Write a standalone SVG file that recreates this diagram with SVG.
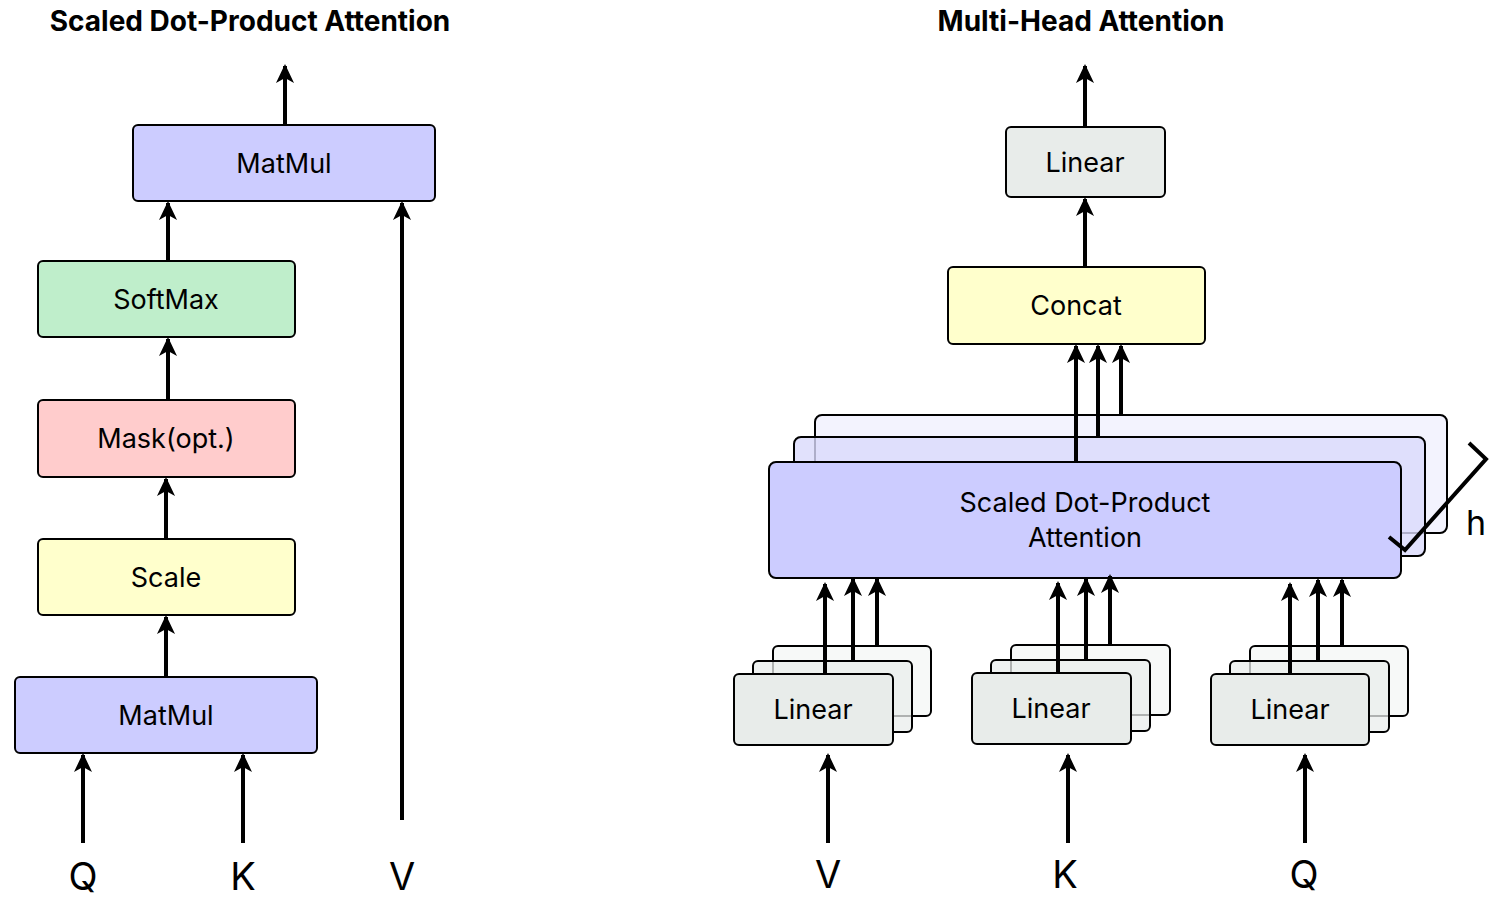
<svg xmlns="http://www.w3.org/2000/svg" width="1506" height="910" viewBox="0 0 1506 910">
<style>
.box{stroke:#000;stroke-width:2}
.lbl{font-family:Inter,"Liberation Sans",sans-serif;font-size:27px;fill:#000;text-anchor:middle}
.title{font-family:Inter,"Liberation Sans",sans-serif;font-size:28px;font-weight:bold;fill:#000;text-anchor:middle}
.io{font-family:Inter,"Liberation Sans",sans-serif;font-size:38px;fill:#000;text-anchor:middle}
.ar{stroke:#000;stroke-width:4;fill:none;marker-end:url(#ah)}
.purple{fill:#ccccff}
.lin{fill:#e8ecea}
</style>
<defs>
<marker id="ah" markerUnits="userSpaceOnUse" markerWidth="26" markerHeight="24" viewBox="-22 -11 26 22" refX="0" refY="0" orient="auto">
<path d="M2,0 L-17,-9 L-12,0 L-17,9 Z" fill="#000"/>
</marker>
</defs>
<rect width="1506" height="910" fill="#fff"/>
<text class="title" x="250" y="31">Scaled Dot-Product Attention</text>
<text class="title" x="1081" y="31">Multi-Head Attention</text>

<g id="left-matmul-top"><rect class="box purple" x="133" y="125" width="302" height="76" rx="5"/><text class="lbl" x="284" y="173">MatMul</text></g>
<g id="softmax"><rect class="box" fill="#bfeecb" x="38" y="261" width="257" height="76" rx="5"/><text class="lbl" x="166" y="309">SoftMax</text></g>
<g id="mask"><rect class="box" fill="#ffcccc" x="38" y="400" width="257" height="77" rx="5"/><text class="lbl" x="166" y="448">Mask(opt.)</text></g>
<g id="scale"><rect class="box" fill="#ffffcc" x="38" y="539" width="257" height="76" rx="5"/><text class="lbl" x="166" y="587">Scale</text></g>
<g id="left-matmul-bottom"><rect class="box purple" x="15" y="677" width="302" height="76" rx="5"/><text class="lbl" x="166" y="725">MatMul</text></g>
<g id="left-inputs"><text class="io" x="83" y="890">Q</text><text class="io" x="243" y="890">K</text><text class="io" x="402" y="890">V</text></g>

<g id="mh-linear-top"><rect class="box lin" x="1006" y="127" width="159" height="70" rx="5"/><text class="lbl" x="1085" y="172">Linear</text></g>
<g id="concat"><rect class="box" fill="#ffffcc" x="948" y="267" width="257" height="77" rx="5"/><text class="lbl" x="1076" y="315">Concat</text></g>

<g id="sdpa-stack">
<rect class="box" fill="#f3f3fe" x="815" y="415" width="632" height="118" rx="7"/>
<rect class="box" fill="#dadafb" fill-opacity="0.8" x="794" y="437" width="631" height="119" rx="7"/>
<rect class="box purple" x="769" y="462" width="632" height="116" rx="7"/>
<text class="lbl" x="1085" y="512">Scaled Dot-Product</text>
<text class="lbl" x="1085" y="547">Attention</text>
<path d="M1469,443 L1486,459 L1405,550 L1389,537" fill="none" stroke="#000" stroke-width="4"/>
<text class="io" x="1476" y="535" style="font-size:34px">h</text>
</g>

<g id="linear-v">
<rect class="box" fill="#f7f9f8" x="773" y="646" width="158" height="70" rx="5"/>
<rect class="box" fill="#eaeeec" fill-opacity="0.75" x="753" y="661" width="159" height="71" rx="5"/>
<rect class="box lin" x="734" y="674" width="159" height="71" rx="5"/>
<text class="lbl" x="813" y="719">Linear</text>
</g>
<g id="linear-k">
<rect class="box" fill="#f7f9f8" x="1011" y="645" width="159" height="70" rx="5"/>
<rect class="box" fill="#eaeeec" fill-opacity="0.75" x="991" y="660" width="159" height="71" rx="5"/>
<rect class="box lin" x="972" y="673" width="159" height="71" rx="5"/>
<text class="lbl" x="1051" y="718">Linear</text>
</g>
<g id="linear-q">
<rect class="box" fill="#f7f9f8" x="1250" y="646" width="158" height="70" rx="5"/>
<rect class="box" fill="#eaeeec" fill-opacity="0.75" x="1230" y="661" width="159" height="71" rx="5"/>
<rect class="box lin" x="1211" y="674" width="158" height="71" rx="5"/>
<text class="lbl" x="1290" y="719">Linear</text>
</g>
<g id="right-inputs"><text class="io" x="828" y="888">V</text><text class="io" x="1065" y="888">K</text><text class="io" x="1304" y="888">Q</text></g>

<g id="connectors">
<line class="ar" x1="285" y1="125" x2="285" y2="66"/>
<line class="ar" x1="168" y1="261" x2="168" y2="203"/>
<line class="ar" x1="168" y1="400" x2="168" y2="339"/>
<line class="ar" x1="166" y1="539" x2="166" y2="479"/>
<line class="ar" x1="166" y1="677" x2="166" y2="617"/>
<line class="ar" x1="83" y1="843" x2="83" y2="755"/>
<line class="ar" x1="243" y1="843" x2="243" y2="755"/>
<line class="ar" x1="402" y1="820" x2="402" y2="203"/>

<line class="ar" x1="1085" y1="127" x2="1085" y2="66"/>
<line class="ar" x1="1085" y1="267" x2="1085" y2="199"/>
<line class="ar" x1="1076" y1="462" x2="1076" y2="346"/>
<line class="ar" x1="1098" y1="437" x2="1098" y2="346"/>
<line class="ar" x1="1121" y1="415" x2="1121" y2="346"/>

<line class="ar" x1="825" y1="674" x2="825" y2="584"/>
<line class="ar" x1="853" y1="661" x2="853" y2="579"/>
<line class="ar" x1="877" y1="646" x2="877" y2="579"/>
<line class="ar" x1="1058" y1="673" x2="1058" y2="583"/>
<line class="ar" x1="1086" y1="660" x2="1086" y2="579"/>
<line class="ar" x1="1110" y1="645" x2="1110" y2="576"/>
<line class="ar" x1="1290" y1="674" x2="1290" y2="584"/>
<line class="ar" x1="1318" y1="661" x2="1318" y2="580"/>
<line class="ar" x1="1342" y1="646" x2="1342" y2="580"/>

<line class="ar" x1="828" y1="843" x2="828" y2="755"/>
<line class="ar" x1="1068" y1="843" x2="1068" y2="755"/>
<line class="ar" x1="1305" y1="843" x2="1305" y2="755"/>
</g>
</svg>
